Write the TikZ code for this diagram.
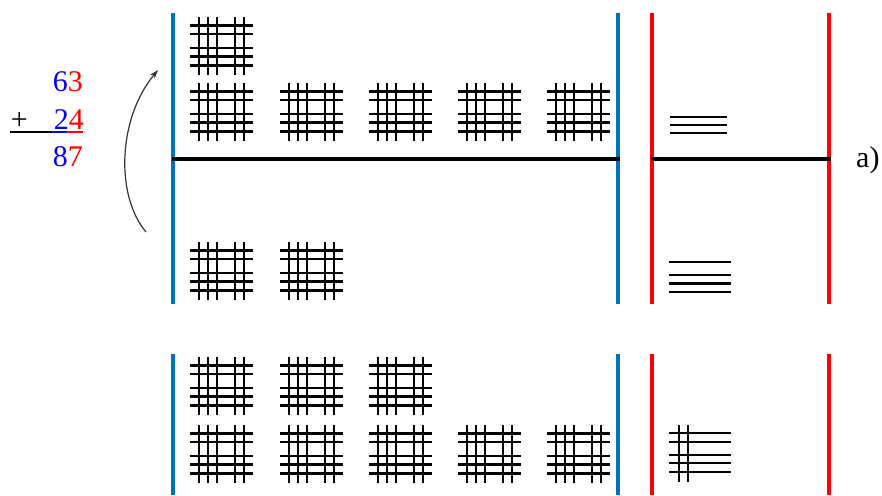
\documentclass[tikz,border=0pt]{standalone}
\usepackage{fontspec}
\setmainfont{Liberation Serif}
\usetikzlibrary{arrows.meta}

\definecolor{tensblue}{RGB}{0,112,192}
\definecolor{onesred}{RGB}{255,0,0}
\definecolor{digitblue}{RGB}{0,0,255}

\tikzset{
  stick/.style={line width=2.4pt, black},
  tensbar/.style={line width=4.5pt, tensblue},
  onesbar/.style={line width=4.5pt, onesred},
  splitbar/.style={line width=4pt, black},
  digits/.style={font=\fontsize{30}{32}\selectfont, inner sep=0pt, anchor=east},
  bundle/.pic={
    \foreach \gx in {9,18,27,45,54} \draw[stick] (\gx,0) -- (\gx,58);
    \foreach \gy in {8.5,17,31,39.5,48.5} \draw[stick] (0,\gy) -- (63,\gy);
  }
}

\begin{document}
\begin{tikzpicture}[x=1pt, y=-1pt]
  \useasboundingbox (0,0) rectangle (882,495);
  % the sum on the left
  \node[digits] (top63) at (83,82) {\textcolor{digitblue}{6}\textcolor{onesred}{3}};
  \node[digits] (plus) at (28,121) {+};
  \node[digits] (mid24) at (84,120) {\textcolor{digitblue}{2}\textcolor{onesred}{4}};
  \node[digits] (sum87) at (83,157) {\textcolor{digitblue}{8}\textcolor{onesred}{7}};
  \draw[line width=1.5pt, black] (10,132) -- (52,132);
  \draw[line width=1.5pt, digitblue] (52,132) -- (67,132);
  \draw[line width=1.5pt, onesred] (67,132) -- (83,132);
  % carry arrow
  \coordinate (carryfrom) at (146,232);
  \coordinate (carryto) at (158,70);
  \draw[line width=1.2pt, black!80, -{Stealth[length=9pt, width=6pt]}] (carryfrom) .. controls (115,195) and (118,118) .. (carryto);
  % column bars of the two upper rows
  \draw[tensbar] (173,13) -- (173,304);
  \draw[tensbar] (618,13) -- (618,304);
  \draw[onesbar] (652,13) -- (652,304);
  \draw[onesbar] (829,13) -- (829,304);
  \draw[splitbar] (172,159) -- (620,159);
  \draw[splitbar] (651,159) -- (831,159);
  \node[font=\fontsize{30}{32}\selectfont, inner sep=0pt, anchor=west] (parta) at (856,160) {a)};
  % column bars of the result row
  \draw[tensbar] (173,354) -- (173,495);
  \draw[tensbar] (618,354) -- (618,495);
  \draw[onesbar] (652,354) -- (652,495);
  \draw[onesbar] (829,354) -- (829,495);
  % tens of 63
  \pic at (190,17) {bundle};
  \foreach \bx in {190,280,369,458,547} \pic at (\bx,83) {bundle};
  % ones of 63
  \foreach \oy in {117,125,133} \draw[stick] (670,\oy) -- (727,\oy);
  % tens of 24
  \foreach \bx in {190,280} \pic at (\bx,242) {bundle};
  % ones of 24
  \foreach \oy in {262,275,283.5,292} \draw[stick] (669,\oy) -- (731,\oy);
  % tens of 87
  \foreach \bx in {190,280,369} \pic at (\bx,357) {bundle};
  \foreach \bx in {190,280,369,458,547} \pic at (\bx,425) {bundle};
  % ones of 87
  \foreach \oy in {433,442,455,463,472} \draw[stick] (669,\oy) -- (731,\oy);
  \foreach \ox in {679,688} \draw[stick] (\ox,425) -- (\ox,482);
\end{tikzpicture}
\end{document}
